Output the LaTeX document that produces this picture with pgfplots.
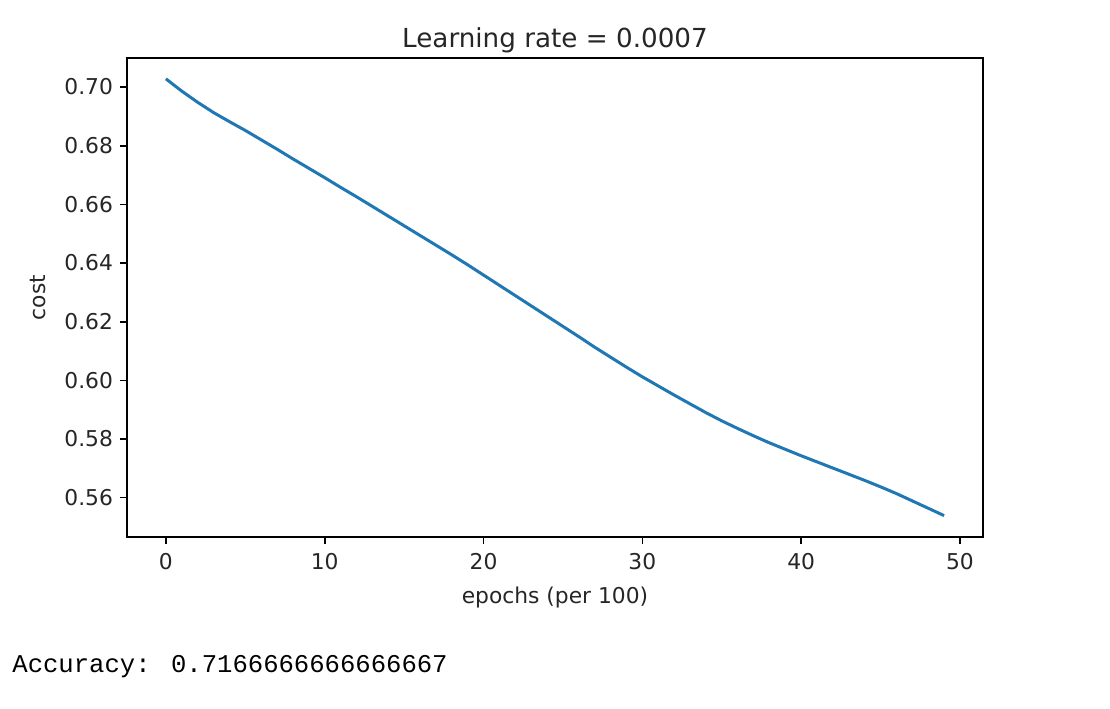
\documentclass[border=0pt]{standalone}
\usepackage{fontspec}
\setmainfont{DejaVu Sans}
\newfontfamily\accfont{Liberation Mono}
\usepackage{pgfplots}
\pgfplotsset{compat=1.18}
\definecolor{mplblue}{HTML}{1F77B4}
\begin{document}
\begin{tikzpicture}
\useasboundingbox (0,0) rectangle (555pt,354pt);
\begin{axis}[
  at={(63.5pt,85.5pt)}, anchor=south west,
  scale only axis, width=428pt, height=239.5pt,
  xmin=-2.45, xmax=51.45, ymin=0.5466, ymax=0.7099,
  xtick={0,10,20,30,40,50},
  ytick={0.56,0.58,0.60,0.62,0.64,0.66,0.68,0.70},
  yticklabel style={/pgf/number format/.cd,fixed,fixed zerofill,precision=2},
  /pgf/number format/assume math mode=true,
  tick label style={font=\fontsize{10.9}{13}\selectfont, color=black!85},
  tick align=outside, tick pos=left,
  major tick length=3.5pt,
  every tick/.style={black, line width=0.8pt},
  axis line style={line width=0.8pt},
  xticklabel style={yshift=-1pt},
  title={Learning rate = 0.0007},
  title style={font=\fontsize{13.1}{15}\selectfont, at={(axis description cs:0.5,1)}, anchor=center, yshift=3pt, color=black!85},
  xlabel={epochs (per 100)},
  ylabel={cost},
  label style={font=\fontsize{10.9}{13}\selectfont, color=black!85},
  xlabel style={at={(axis description cs:0.5,0)}, anchor=center, yshift=-30pt},
  ylabel style={at={(axis description cs:-0.104,0.5)}, anchor=center, rotate=0},
]
\addplot[mplblue, line width=1.5pt] coordinates {
(0,0.7028) (1,0.6986) (2,0.6948) (3,0.6913) (4,0.6882) (5,0.6852)
(6,0.6820) (7,0.6788) (8,0.6755) (9,0.6723) (10,0.6691) (11,0.6658)
(12,0.6626) (13,0.6593) (14,0.6560) (15,0.6527) (16,0.6494) (17,0.6461)
(18,0.6428) (19,0.6394) (20,0.6359) (21,0.6324) (22,0.6289) (23,0.6254)
(24,0.6219) (25,0.6184) (26,0.6149) (27,0.6113) (28,0.6079) (29,0.6045)
(30,0.6012) (31,0.5981) (32,0.5950) (33,0.5920) (34,0.5890) (35,0.5862)
(36,0.5836) (37,0.5811) (38,0.5787) (39,0.5765) (40,0.5743) (41,0.5722)
(42,0.5701) (43,0.5680) (44,0.5659) (45,0.5637) (46,0.5614) (47,0.5589)
(48,0.5564) (49,0.5539)
};
\end{axis}
\node[anchor=west, inner sep=0pt, font=\accfont\fontsize{12.8}{15}\selectfont] at (6pt,20.5pt) {Accuracy: 0.7166666666666667};
\end{tikzpicture}
\end{document}
